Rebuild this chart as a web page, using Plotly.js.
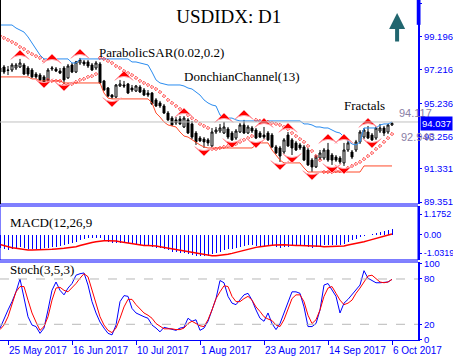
<!DOCTYPE html>
<html><head><meta charset="utf-8">
<script src="https://cdn.plot.ly/plotly-3.0.1.min.js"></script>
<style>html,body{margin:0;padding:0;background:#fff;}#chart{width:453px;height:360px;}</style>
</head><body><div id="chart"></div>
<script>
// ---- Data (bar index 0 = 23 May 2017, last = 6 Oct 2017) ----
const tickLabels = ['25 May 2017','16 Jun 2017','10 Jul 2017','1 Aug 2017','23 Aug 2017','14 Sep 2017','6 Oct 2017'];
const tickBars = [2,18,34,50,66,82,98];

const openP = [
97.33,97.39,97.21,97.21,97.33,97.39,97.51,97.33,97.21,96.97,
96.91,96.80,96.62,97.27,97.27,97.15,97.33,96.74,97.51,97.09,
97.63,97.69,97.69,97.51,97.33,97.57,96.56,96.14,95.72,95.60,
96.26,96.32,96.38,96.14,95.96,96.20,96.02,95.84,95.84,95.43,
95.25,95.07,94.65,94.35,94.24,94.30,93.82,94.24,94.00,93.46,
93.16,93.10,93.05,92.69,93.52,93.58,93.46,93.70,93.46,93.16,
93.52,93.94,93.46,93.76,93.64,93.46,93.34,93.46,93.34,92.63,
92.57,92.33,93.34,93.05,92.87,92.75,92.63,92.45,91.85,91.44,
91.97,91.97,92.45,92.15,92.03,91.97,91.68,92.45,92.33,92.45,
92.93,93.22,93.52,93.34,93.16,93.58,93.76,93.52,93.94];
const highP = [
97.45,97.51,97.45,97.63,97.63,97.87,97.63,97.45,97.33,97.09,
97.03,96.91,97.33,97.45,97.39,97.33,97.45,97.57,97.63,97.75,
97.93,97.81,97.81,97.63,97.75,97.69,96.62,96.20,95.78,96.38,
96.62,96.56,96.44,96.32,96.32,96.32,96.14,96.02,95.90,95.54,
95.37,95.19,94.77,94.47,94.41,94.47,94.47,94.35,94.18,93.58,
93.28,93.22,93.16,93.76,93.82,94.00,94.12,93.82,93.58,93.70,
94.06,94.24,93.94,93.88,93.76,93.58,93.82,93.58,93.46,92.75,
92.69,93.16,93.52,93.16,92.99,92.87,92.75,92.57,91.97,92.15,
92.45,92.57,92.87,92.27,92.15,92.09,92.87,92.99,92.45,93.05,
93.64,93.76,93.88,93.46,93.88,94.00,93.88,94.00,94.12];
const lowP = [
96.97,96.97,96.91,97.09,97.21,97.33,96.91,96.85,96.74,96.68,
96.56,96.44,96.56,97.15,97.09,96.97,96.38,96.68,97.03,97.03,
97.51,97.45,97.33,97.15,97.21,96.38,95.96,95.60,95.49,95.54,
96.20,96.14,95.78,95.90,95.90,95.84,95.66,95.60,95.13,95.01,
94.95,94.59,94.18,93.88,93.94,93.94,93.76,93.40,93.10,92.75,
92.93,92.57,92.69,92.57,93.40,93.46,93.40,93.10,92.99,93.05,
93.46,93.40,93.40,93.46,93.10,93.16,93.10,92.99,92.57,92.21,
91.74,92.21,92.63,92.15,92.39,92.45,91.79,91.50,91.14,91.38,
91.85,91.85,91.74,91.56,91.74,91.62,91.50,92.33,91.91,92.33,
92.81,93.10,93.10,92.99,93.05,93.46,93.28,93.40,93.88];
const closeP = [
97.09,97.09,97.19,97.51,97.51,97.63,96.97,96.97,96.80,96.80,
96.62,96.50,97.21,97.33,97.15,97.03,96.62,97.45,97.09,97.69,
97.81,97.57,97.45,97.21,97.63,96.44,96.02,95.66,95.60,96.32,
96.38,96.26,95.84,96.02,96.26,95.90,95.72,95.72,95.19,95.07,
95.07,94.65,94.24,93.94,94.06,94.00,94.35,93.46,93.22,92.93,
92.99,92.93,92.87,93.52,93.64,93.76,93.82,93.22,93.05,93.58,
93.94,93.46,93.82,93.58,93.16,93.22,93.22,93.05,92.63,92.27,
92.09,93.05,92.69,92.57,92.45,92.57,91.85,91.56,91.44,92.03,
92.27,92.45,91.85,91.85,91.85,91.74,92.45,92.87,92.03,92.93,
93.52,93.64,93.16,93.05,93.76,93.76,93.46,93.94,94.037];

const sar = [
99.24,99.12,99.00,98.88,98.76,98.58,98.46,98.28,98.16,98.04,
97.93,97.75,96.62,96.56,96.56,96.56,96.32,96.32,96.38,96.50,
96.62,96.68,96.80,96.85,96.97,97.93,97.87,97.75,97.63,97.45,
97.33,97.15,97.03,96.91,96.74,96.56,96.44,96.32,96.20,96.08,
95.90,95.66,95.43,95.25,95.07,94.89,94.71,94.53,94.35,94.18,
94.00,93.88,93.76,92.51,92.51,92.57,92.63,92.69,92.75,92.81,
92.93,93.05,93.16,93.28,94.24,94.18,94.12,94.12,94.06,94.00,
93.94,93.82,93.70,93.46,93.28,93.10,92.93,92.69,92.39,92.09,
91.85,91.14,91.14,91.14,91.20,91.20,91.26,91.38,91.50,91.62,
91.74,91.91,92.09,92.27,92.51,92.69,92.93,93.16,93.40];

const donchUpper = [
99.89,99.89,99.89,99.89,99.71,99.59,99.47,99.18,98.82,98.40,
98.10,97.87,97.87,97.87,97.87,97.87,97.87,97.87,97.63,97.63,
97.87,97.87,97.87,97.87,97.87,97.87,97.87,97.87,97.87,97.87,
97.87,97.87,97.87,97.69,97.69,97.63,97.57,97.51,97.09,96.62,
96.44,96.38,96.32,96.32,96.32,96.32,96.26,96.14,96.08,95.90,
95.72,95.43,95.25,95.13,95.07,94.53,94.41,94.35,94.35,94.24,
94.18,94.18,94.18,94.18,94.18,94.18,94.18,94.18,94.18,94.18,
94.18,94.18,94.18,94.18,94.18,94.18,94.00,94.00,93.94,93.82,
93.82,93.76,93.76,93.64,93.52,93.46,93.22,92.99,92.81,92.75,
92.93,93.76,93.76,93.76,93.76,93.94,94.00,94.00,94.12];
const donchLower = [
96.80,96.80,96.80,96.80,96.80,96.80,96.80,96.80,96.68,96.68,
96.56,96.56,96.56,96.56,96.56,96.56,96.44,96.44,96.44,96.44,
96.44,96.44,96.44,96.44,96.44,96.44,95.84,95.54,95.49,95.49,
95.49,95.49,95.49,95.49,95.49,95.49,95.49,95.49,95.25,94.65,
94.41,94.12,93.94,93.88,93.82,93.52,93.28,93.22,93.05,92.93,
92.75,92.63,92.57,92.57,92.57,92.57,92.57,92.57,92.57,92.57,
92.57,92.57,92.57,92.57,92.75,92.87,92.87,92.87,92.45,92.15,
91.85,91.68,91.68,91.68,91.68,91.68,91.38,91.14,91.14,91.14,
91.14,91.14,91.14,91.14,91.14,91.14,91.14,91.14,91.14,91.14,
91.14,91.50,91.50,91.50,91.50,91.50,91.50,91.50,91.50];

const fractalUpBar   = [5,13,20,31,46,56,61,66,72,82,86,92];
const fractalUpPrice = [98.40,98.16,98.46,97.15,94.95,94.65,94.83,94.35,94.06,93.40,93.40,94.35];
const fractalDnBar   = [11,16,28,51,58,64,70,73,78,83,86,93];
const fractalDnPrice = [96.14,95.96,95.01,92.09,92.57,92.57,91.26,91.68,90.66,91.08,91.02,92.57];

const macdMain = [
-0.72,-0.81,-0.85,-0.79,-0.75,-0.70,-0.75,-0.77,-0.79,-0.81,
-0.79,-0.75,-0.72,-0.68,-0.66,-0.60,-0.57,-0.53,-0.47,-0.38,
-0.30,-0.23,-0.19,-0.19,-0.15,-0.19,-0.26,-0.38,-0.43,-0.43,
-0.43,-0.43,-0.47,-0.53,-0.57,-0.57,-0.60,-0.60,-0.66,-0.72,
-0.75,-0.79,-0.87,-0.94,-0.98,-1.02,-1.04,-1.09,-1.13,-1.17,
-1.19,-1.21,-1.17,-1.09,-1.04,-0.94,-0.85,-0.81,-0.79,-0.75,
-0.68,-0.62,-0.57,-0.57,-0.60,-0.62,-0.64,-0.62,-0.64,-0.68,
-0.72,-0.70,-0.66,-0.62,-0.60,-0.60,-0.64,-0.70,-0.72,-0.68,
-0.62,-0.57,-0.57,-0.57,-0.57,-0.57,-0.49,-0.38,-0.28,-0.21,
-0.13,-0.04,0.00,0.04,0.09,0.17,0.23,0.28,0.36];
const macdSignal = [
-0.53,-0.60,-0.66,-0.72,-0.75,-0.79,-0.83,-0.85,-0.85,-0.85,
-0.85,-0.85,-0.85,-0.81,-0.79,-0.79,-0.75,-0.72,-0.70,-0.66,
-0.60,-0.53,-0.47,-0.42,-0.38,-0.34,-0.32,-0.32,-0.32,-0.34,
-0.38,-0.42,-0.47,-0.51,-0.55,-0.58,-0.60,-0.60,-0.60,-0.62,
-0.66,-0.70,-0.74,-0.77,-0.81,-0.85,-0.89,-0.94,-0.98,-1.04,
-1.08,-1.11,-1.13,-1.17,-1.17,-1.15,-1.13,-1.09,-1.04,-0.98,
-0.91,-0.85,-0.79,-0.74,-0.70,-0.66,-0.62,-0.60,-0.58,-0.57,
-0.55,-0.55,-0.57,-0.60,-0.60,-0.60,-0.60,-0.60,-0.60,-0.62,
-0.64,-0.66,-0.66,-0.66,-0.66,-0.66,-0.62,-0.57,-0.53,-0.49,
-0.43,-0.38,-0.32,-0.26,-0.19,-0.13,-0.08,0.00,0.06];

const stochK = [
14.7,28,39,50,63,80,57,30,19,17,
8,15,39,65,76,65,59,68,74,85,
87,88,72,50,35,23,15,8,6,19,
50,58,57,41,35,32,30,28,19,15,
10,16,15,13,12,15,16,28,24,26,
12,15,24,39,54,78,75,57,48,46,
52,59,61,52,39,28,24,35,21,13,
21,35,48,63,63,61,43,17,17,21,
39,72,74,65,57,35,48,53,59,65,
72,91,81,78,75,75,75.6,76,79.5];
const stochD = [
13,19,30,48,63,70,70,52,35,23,
12,17,30,52,68,69,65,63,68,74,
81,87,83,65,48,30,19,12,9,15,
28,43,53,53,46,40,35,32,28,21,
17,14,14,14,13,13,15,21,24,21,
18,17,26,39,54,63,71,70,57,50,
50,54,57,52,43,37,30,27,25,19,
17,26,39,54,59,59,50,32,21,26,
39,57,68,70,61,52,46,48,52,61,
68,76,84,85,80,76,75,76,79.5];

const priceTicks = [101.17,99.196,97.216,95.236,93.256,91.331,89.351];
const priceTickText = ['101.17','99.196','97.216','95.236','93.256','91.331','89.351'];
const macdTicks = [1.1752,0,-1.0319];
const macdTickText = ['1.1752','0.00','-1.0319'];
const stochTicks = [100,80,20,0];
const stochLevels = [80,20];
const lastPrice = 94.037;
const levelHigh = 94.117, levelLow = 92.948;

// ---- Build ----
const bars = closeP.map((_, i) => i);
const BLUE = '#0000ff';
const sans = 'Liberation Sans, Arial, sans-serif';
const tickFont = {family:sans, size:9.5, color:BLUE};
const serif = 'Liberation Serif, Times New Roman, serif';

const traces = [
  {type:'scatter', mode:'lines', x:bars, y:donchUpper, xaxis:'x', yaxis:'y',
   line:{color:'#2a8cf0', width:1}, hoverinfo:'skip'},
  {type:'scatter', mode:'lines', x:bars, y:donchLower, xaxis:'x', yaxis:'y',
   line:{color:'#ff4a2a', width:1}, hoverinfo:'skip'},
  {type:'candlestick', x:bars, open:openP, high:highP, low:lowP, close:closeP,
   xaxis:'x', yaxis:'y', whiskerwidth:0,
   increasing:{line:{color:'#000000', width:1}, fillcolor:'#ffffff'},
   decreasing:{line:{color:'#000000', width:1}, fillcolor:'#000000'},
   hoverinfo:'skip'},
  {type:'scatter', mode:'markers', x:bars, y:sar, xaxis:'x', yaxis:'y',
   marker:{symbol:'diamond-open', size:2.5, color:'#ff1a1a', line:{width:0.9, color:'#ff1a1a'}}, hoverinfo:'skip'},
  {type:'scatter', mode:'markers', x:fractalUpBar, y:fractalUpPrice, xaxis:'x', yaxis:'y',
   marker:{symbol:'arrow-wide', angle:0, size:13, color:'#ff0000', line:{width:1, color:'#ffa0a8'}}, hoverinfo:'skip'},
  {type:'scatter', mode:'markers', x:fractalDnBar, y:fractalDnPrice, xaxis:'x', yaxis:'y',
   marker:{symbol:'arrow-wide', angle:180, size:13, color:'#ff0000', line:{width:1, color:'#ffa0a8'}}, hoverinfo:'skip'},
  {type:'bar', x:bars, y:macdMain, xaxis:'x', yaxis:'y2', width:0.25,
   marker:{color:BLUE, line:{width:0}}, hoverinfo:'skip'},
  {type:'scatter', mode:'lines', x:bars, y:macdSignal, xaxis:'x', yaxis:'y2',
   line:{color:'#ff0000', width:1.5}, hoverinfo:'skip'},
  {type:'scatter', mode:'lines', x:bars, y:stochK, xaxis:'x', yaxis:'y3',
   line:{color:BLUE, width:1}, hoverinfo:'skip'},
  {type:'scatter', mode:'lines', x:bars, y:stochD, xaxis:'x', yaxis:'y3',
   line:{color:'#ff0000', width:1}, hoverinfo:'skip'}
];

const yCommon = {side:'right', ticks:'outside', ticklen:2, tickcolor:BLUE, showline:true,
  linecolor:BLUE, linewidth:2, showgrid:false, zeroline:false, tickfont:tickFont, fixedrange:true};

const shapes = [
  {type:'line', xref:'paper', yref:'paper', x0:0, x1:1, y0:0.4, y1:0.4, line:{color:BLUE, width:1}},
  {type:'rect', xref:'paper', yref:'paper', x0:0, x1:1, y0:0.2353, y1:0.3941, line:{color:BLUE, width:1}},
  {type:'line', xref:'paper', yref:'paper', x0:0, x1:1, y0:0.2294, y1:0.2294, line:{color:BLUE, width:1}},
  {type:'line', xref:'paper', yref:'paper', x0:0, x1:0, y0:0.4, y1:1, line:{color:'#000', width:2}},
  {type:'line', xref:'paper', yref:'y', x0:0, x1:1, y0:levelHigh, y1:levelHigh, line:{color:'#c0c0c0', width:1}},
  {type:'rect', xref:'paper', yref:'paper', x0:0.997, x1:1.006, y0:0.927, y1:1, fillcolor:BLUE, line:{width:0}}
];
stochLevels.forEach(v => shapes.push({type:'line', xref:'paper', yref:'y3', x0:0, x1:1, y0:v, y1:v,
  line:{color:'#b8b8b8', width:1, dash:'dash'}}));

const labelFont = {family:serif, size:13, color:'#000'};
const annotations = [
  {xref:'paper', yref:'paper', x:0.232, y:0.847, xanchor:'left', yanchor:'middle', text:'ParabolicSAR(0.02,0.2)', showarrow:false, font:labelFont},
  {xref:'paper', yref:'paper', x:0.435, y:0.774, xanchor:'left', yanchor:'middle', text:'DonchianChannel(13)', showarrow:false, font:labelFont},
  {xref:'paper', yref:'paper', x:0.818, y:0.691, xanchor:'left', yanchor:'middle', text:'Fractals', showarrow:false, font:labelFont},
  {xref:'paper', yref:'paper', x:0.019, y:0.347, xanchor:'left', yanchor:'middle', text:'MACD(12,26,9', showarrow:false, font:labelFont},
  {xref:'paper', yref:'paper', x:0.019, y:0.206, xanchor:'left', yanchor:'middle', text:'Stoch(3,5,3)', showarrow:false, font:labelFont},
  {xref:'paper', yref:'paper', x:0.950, y:0.668, xanchor:'left', yanchor:'middle', text:levelHigh.toFixed(3), showarrow:false,
   font:{family:sans, size:11, color:'#8a80a6'}},
  {xref:'paper', yref:'paper', x:0.955, y:0.597, xanchor:'left', yanchor:'middle', text:levelLow.toFixed(3), showarrow:false,
   font:{family:sans, size:11, color:'#8a80a6'}},
  {xref:'paper', yref:'y', x:1, y:lastPrice, xanchor:'left', yanchor:'middle', xshift:2, text:lastPrice.toFixed(3), showarrow:false,
   bgcolor:BLUE, borderpad:1, font:{family:sans, size:9.5, color:'#ffffff'}},
  {xref:'paper', yref:'paper', x:0.950, y:0.962, ax:0, ay:30, text:'', showarrow:true,
   arrowhead:2, arrowsize:0.8, arrowwidth:4, arrowcolor:'#21666f'}
];
// date labels, left-aligned at their tick marks
tickBars.forEach((b, k) => annotations.push({xref:'x', yref:'paper', x:b, y:0, xanchor:'left', yanchor:'top',
  yshift:-3, xshift:-1, text:tickLabels[k], showarrow:false, font:{family:sans, size:10, color:BLUE}}));

const layout = {
  width:453, height:360, margin:{l:0, r:35, t:0, b:20},
  paper_bgcolor:'#ffffff', plot_bgcolor:'#ffffff', showlegend:false, bargap:0,
  title:{text:'USDIDX: D1', font:{family:serif, size:19, color:'#000'}, x:0.505, xanchor:'center', y:0.955, yanchor:'middle'},
  xaxis:{range:[0,104.5], anchor:'y3', tickvals:tickBars, ticks:'outside', ticklen:4,
    tickcolor:BLUE, showticklabels:false, showgrid:false, zeroline:false,
    showline:true, linecolor:BLUE, linewidth:1, rangeslider:{visible:false}, fixedrange:true},
  yaxis:Object.assign({}, yCommon, {domain:[0.4,1], range:[89.235,101.378], tickvals:priceTicks, ticktext:priceTickText}),
  yaxis2:Object.assign({}, yCommon, {domain:[0.2353,0.3941], range:[-1.415,1.64], tickvals:macdTicks, ticktext:macdTickText,
    tickfont:{family:sans, size:9, color:BLUE}}),
  yaxis3:Object.assign({}, yCommon, {domain:[0,0.2294], range:[-0.8,102.5], tickvals:stochTicks, ticktext:stochTicks.map(String)}),
  shapes:shapes, annotations:annotations
};

Plotly.newPlot('chart', traces, layout, {staticPlot:true, displayModeBar:false});
</script></body></html>
